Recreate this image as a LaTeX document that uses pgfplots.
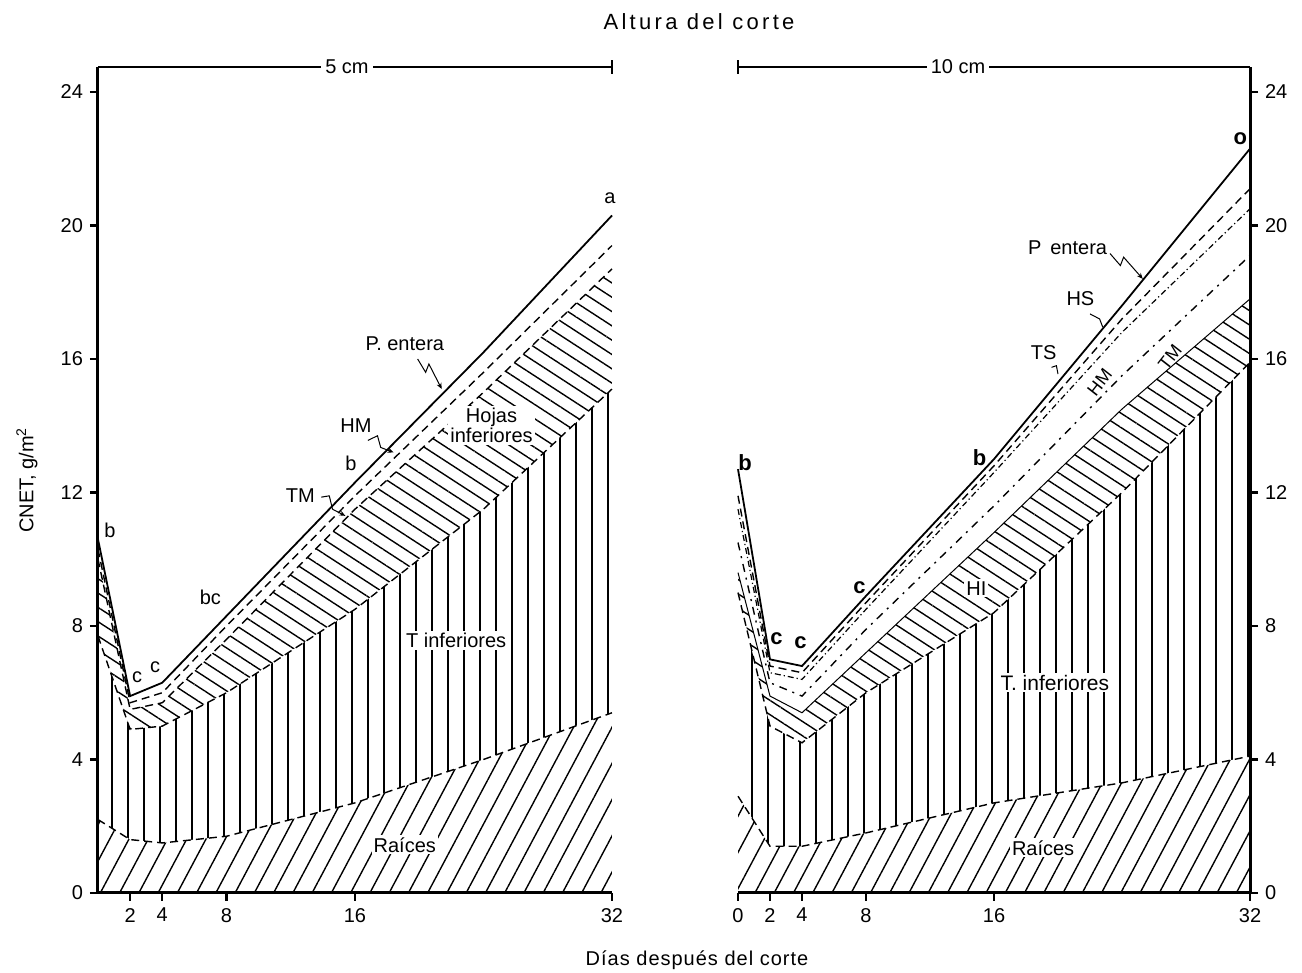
\documentclass[border=0pt]{standalone}
\usepackage{fontspec}
\setmainfont{Liberation Sans}
\usepackage{pgfplots}
\pgfplotsset{compat=1.18}
\usepackage{pgfplotstable}
\usetikzlibrary{patterns.meta,arrows.meta}

\pgfplotstableread{
day top d1 d2 T R
0 10.6 10.3 10.0 7.7 2.2
2 5.9 5.7 5.5 4.9 1.6
4 6.3 6.0 5.7 5.0 1.5
8 8.3 8.0 7.6 6.0 1.7
16 12.3 11.9 11.5 8.5 2.7
24 16.2 15.6 15.0 11.5 4.0
32 20.3 19.4 18.7 15.1 5.4
}\leftdata

\pgfplotstableread{
day top d1 d2 d3 d4 T R
0 12.7 11.9 11.5 10.5 9.6 9.0 2.9
2 7.0 6.8 6.6 6.3 5.9 5.0 1.4
4 6.8 6.6 6.4 5.9 5.4 4.5 1.4
8 8.9 8.7 8.5 7.9 7.2 6.0 1.8
16 13.0 12.8 12.6 11.6 10.8 8.4 2.7
24 17.6 17.2 16.8 15.5 14.5 12.0 3.3
32 22.3 21.1 20.5 19.1 17.8 15.9 4.1
}\rightdata

\tikzset{lab/.style={fill=white, inner sep=1pt}}

\pgfplotsset{
  panel/.style={
    scale only axis, width=256pt, height=400.5pt,
    xmin=0, xmax=32, ymin=0, ymax=24,
    axis x line*=bottom,
    axis line style={line width=1.5pt},
    tick align=outside, major tick length=4pt,
    tick style={line width=1.2pt, black},
    ytick={0,4,...,24},
    tick label style={font=\fontsize{10}{12}\selectfont},
    /pgf/number format/assume math mode=true,
    clip=false, axis on top,
    every node/.append style={font=\fontsize{10}{12}\selectfont},
  },
  roots/.style={draw=none, fill=white, postaction={pattern={Lines[angle=62,distance=8.5pt,line width=0.7pt]}}},
  tinf/.style={draw=none, fill=white, postaction={pattern={Lines[angle=90,distance=8pt,line width=0.7pt]}}},
  hinf/.style={draw=none, fill=white, postaction={pattern={Lines[angle=-33,distance=6pt,line width=0.7pt]}}},
  dashA/.style={black, line width=0.7pt, dash pattern=on 4pt off 2.5pt},
  dashB/.style={black, line width=0.6pt, dash pattern=on 3pt off 1.5pt on 0.6pt off 1.5pt},
  dashC/.style={black, line width=0.7pt, dash pattern=on 4pt off 3pt on 1pt off 3pt},
  solidtop/.style={black, line width=0.9pt},
}

\begin{document}
\begin{tikzpicture}
\useasboundingbox (0,0) rectangle (651pt,486.5pt);

% ---------- left panel: 5 cm ----------
\begin{axis}[panel, width=257pt, at={(49pt,40pt)}, anchor=south west,
  axis y line*=left, xtick={2,4,8,16,32}]
  \addplot[hinf] table[x=day,y=d2]{\leftdata} \closedcycle;
  \addplot[tinf] table[x=day,y=T]{\leftdata} \closedcycle;
  \addplot[roots] table[x=day,y=R]{\leftdata} \closedcycle;
  \addplot[dashA] table[x=day,y=R]{\leftdata};
  \addplot[dashA] table[x=day,y=T]{\leftdata};
  \addplot[dashA] table[x=day,y=d2]{\leftdata};
  \addplot[dashA] table[x=day,y=d1]{\leftdata};
  \addplot[solidtop] table[x=day,y=top]{\leftdata};
  % bracket
  \draw[line width=1.5pt] (axis cs:0,24) -- (axis cs:0,24.75);
  \draw[line width=0.6pt] (axis cs:0,24.75) -- (axis cs:32,24.75);
  \draw[line width=0.8pt] (axis cs:32,24.55) -- (axis cs:32,24.95);
  \node[fill=white, inner sep=2pt] at (axis cs:15.5,24.75) {5 cm};
  % letters
  \node at (axis cs:0.75,10.87) {b};
  \node at (axis cs:2.44,6.47) {c};
  \node at (axis cs:3.56,6.77) {c};
  \node at (axis cs:7.0,8.86) {bc};
  \node at (axis cs:15.75,12.87) {b};
  \node at (axis cs:31.875,20.81) {a};
  % layer labels
  \node at (axis cs:19.1,16.47) {P. entera};
  \draw[-{Stealth[length=3pt,width=2.5pt]}, line width=0.5pt] (axis cs:19.9,16.0) -- (axis cs:20.4,15.6) -- (axis cs:20.6,15.85) -- (axis cs:21.4,15.1);
  \node at (axis cs:16.06,14.01) {HM};
  \draw[-{Stealth[length=3pt,width=2.5pt]}, line width=0.5pt] (axis cs:16.8,13.56) -- (axis cs:17.4,13.7) -- (axis cs:17.6,13.35) -- (axis cs:18.4,13.2);
  \node at (axis cs:12.6,11.9) {TM};
  \draw[-{Stealth[length=3pt,width=2.5pt]}, line width=0.5pt] (axis cs:13.9,11.86) -- (axis cs:14.4,11.9) -- (axis cs:14.6,11.5) -- (axis cs:15.4,11.3);
  \node[lab, align=center] at (axis cs:24.5,14.0) {Hojas\\[-2pt]inferiores};
  \node[lab] at (axis cs:22.3,7.57) {T inferiores};
  \node[lab] at (axis cs:19.1,1.44) {Raíces};
\end{axis}

% ---------- right panel: 10 cm ----------
\begin{axis}[panel, at={(369pt,40pt)}, anchor=south west,
  axis y line*=right, xtick={0,2,4,8,16,32}]
  \addplot[hinf] table[x=day,y=d4]{\rightdata} \closedcycle;
  \addplot[tinf] table[x=day,y=T]{\rightdata} \closedcycle;
  \addplot[roots] table[x=day,y=R]{\rightdata} \closedcycle;
  \addplot[dashA] table[x=day,y=R]{\rightdata};
  \addplot[dashA] table[x=day,y=T]{\rightdata};
  \addplot[black, line width=0.5pt] table[x=day,y=d4]{\rightdata};
  \addplot[dashC] table[x=day,y=d3]{\rightdata};
  \addplot[dashB] table[x=day,y=d2]{\rightdata};
  \addplot[dashA] table[x=day,y=d1]{\rightdata};
  \addplot[solidtop] table[x=day,y=top]{\rightdata};
  % bracket
  \draw[line width=1.5pt] (axis cs:32,24) -- (axis cs:32,24.75);
  \draw[line width=0.6pt] (axis cs:0,24.75) -- (axis cs:32,24.75);
  \draw[line width=0.8pt] (axis cs:0,24.55) -- (axis cs:0,24.95);
  \node[fill=white, inner sep=2pt] at (axis cs:13.75,24.75) {10 cm};
  % letters
  \node[font=\fontsize{11}{12}\selectfont\bfseries] at (axis cs:0.44,12.9) {b};
  \node[font=\fontsize{11}{12}\selectfont\bfseries] at (axis cs:2.4,7.63) {c};
  \node[font=\fontsize{11}{12}\selectfont\bfseries] at (axis cs:3.9,7.5) {c};
  \node[font=\fontsize{11}{12}\selectfont\bfseries] at (axis cs:7.6,9.16) {c};
  \node[font=\fontsize{11}{12}\selectfont\bfseries] at (axis cs:15.1,13.05) {b};
  \node[font=\fontsize{11}{12}\selectfont\bfseries] at (axis cs:31.4,22.6) {o};
  % layer labels
  \node at (axis cs:20.6,19.34) {P\, entera};
  \draw[-{Stealth[length=3pt,width=2.5pt]}, line width=0.5pt] (axis cs:23.25,19.16) -- (axis cs:23.9,18.8) -- (axis cs:24.1,19.05) -- (axis cs:25.3,18.4);
  \node at (axis cs:21.4,17.8) {HS};
  \draw[line width=0.5pt] (axis cs:22.0,17.35) -- (axis cs:22.6,17.2) -- (axis cs:22.8,16.95);
  \node at (axis cs:19.1,16.2) {TS};
  \draw[line width=0.5pt] (axis cs:19.6,15.75) -- (axis cs:19.9,15.8) -- (axis cs:20.0,15.55);
  \node[rotate=52, inner sep=0pt, font=\fontsize{9}{10}\selectfont] at (axis cs:22.6,15.3) {HM};
  \node[rotate=52, inner sep=0pt, font=\fontsize{9}{10}\selectfont] at (axis cs:27.0,16.05) {TM};
  \node[lab] at (axis cs:14.9,9.13) {HI};
  \node[lab, font=\fontsize{10.5}{12}\selectfont] at (axis cs:19.8,6.3) {T. inferiores};
  \node[lab] at (axis cs:19.07,1.35) {Raíces};
\end{axis}

% titles
\node[font=\fontsize{11}{13}\selectfont\addfontfeature{LetterSpace=15}] at (349.5pt,475.5pt) {Altura del corte};
\node[font=\fontsize{10}{12}\selectfont\addfontfeature{LetterSpace=5}] at (348.5pt,6.5pt) {Días después del corte};
\node[rotate=90, font=\fontsize{10}{12}\selectfont] at (13.5pt,246.5pt) {CNET, g/m\textsuperscript{2}};
\end{tikzpicture}
\end{document}
